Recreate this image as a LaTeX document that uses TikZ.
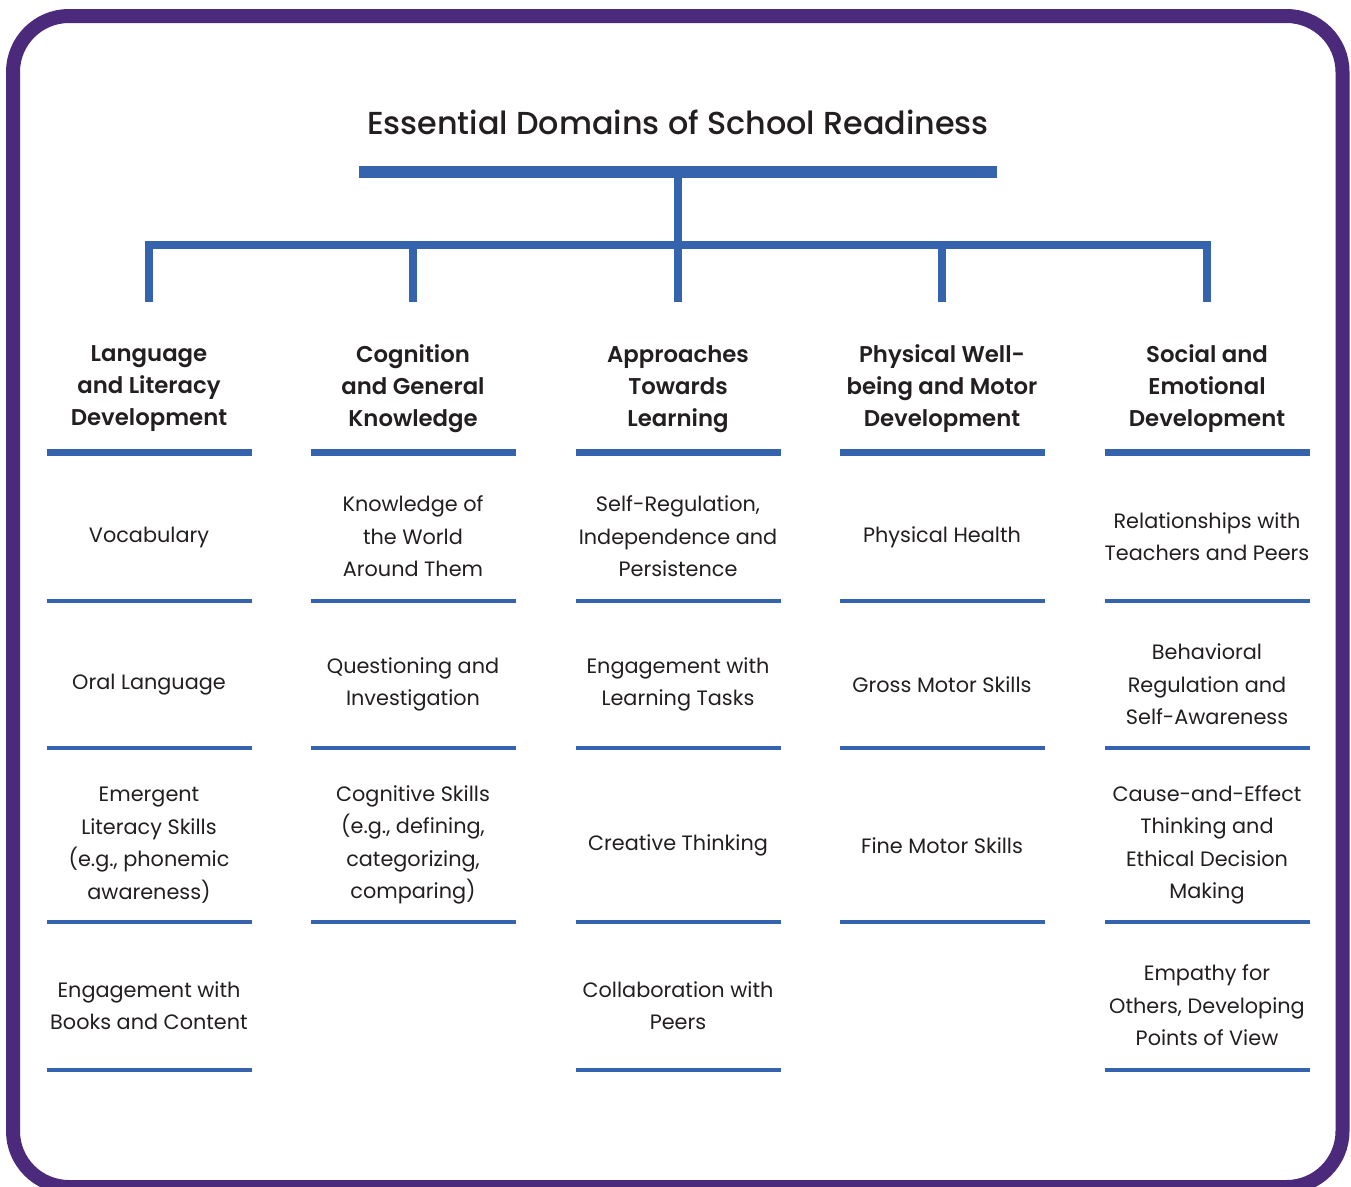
\documentclass[tikz,border=0pt]{standalone}
\usepackage{fontspec}
\setmainfont{Poppins}
\newfontfamily\titlefont{Poppins Medium}
\newfontfamily\headfont{Poppins SemiBold}
\definecolor{frame}{HTML}{4B2A7B}
\definecolor{bar}{HTML}{3563AE}
\definecolor{ink}{HTML}{231F20}
\begin{document}
\begin{tikzpicture}[x=1pt,y=-1pt,
  body/.style={align=center,text=ink,font=\fontsize{20.8}{32.5}\selectfont,inner sep=0pt,yshift=-1.5pt},
  head/.style={align=center,text=ink,font=\fontsize{22.8}{32}\headfont,inner sep=0pt,yshift=-3pt},
  rule/.style={draw=bar,line width=4pt},
  hrule/.style={draw=bar,line width=7pt},
  tree/.style={draw=bar,line width=8pt}]
\useasboundingbox (0,0) rectangle (1351,1186);
\fill[white] (0,0) rectangle (1351,1186);
\draw[frame,line width=14pt,rounded corners=56pt] (13,16) rectangle (1342.5,1187);

\node[text=ink,font=\fontsize{31.8}{34}\titlefont,inner sep=0pt] (title) at (678,122) {Essential Domains of School Readiness};

% tree
\coordinate (tl) at (359,172);
\coordinate (tr) at (997,172);
\coordinate (tm) at (678,172);
\coordinate (hm) at (678,245);
\coordinate (hl) at (145,245);
\coordinate (hr) at (1211,245);
\draw[bar,line width=12pt] (tl) -- (tr);
\draw[tree] (tm) -- (hm);
\draw[tree] (hl) -- (hr);
\foreach \n/\x in {a/149,b/413,c/678,d/942,e/1207}{
  \coordinate (top\n) at (\x,241);
  \coordinate (bot\n) at (\x,302);
  \draw[tree] (top\n) -- (bot\n);
}

% headers
\node[head] (h1) at (149,386) {Language\\and Literacy\\Development};
\node[head] (h2) at (413,386) {Cognition\\and General\\Knowledge};
\node[head] (h3) at (678,386) {Approaches\\Towards\\Learning};
\node[head] (h4) at (942,386) {Physical Well-\\being and Motor\\Development};
\node[head] (h5) at (1207,386) {Social and\\Emotional\\Development};

% rules
\foreach \x in {149,413,678,942,1207}{
  \draw[hrule] (\x-102.5,452) -- (\x+102.5,452);
  \draw[rule] (\x-102.5,601) -- (\x+102.5,601);
  \draw[rule] (\x-102.5,748) -- (\x+102.5,748);
  \draw[rule] (\x-102.5,922) -- (\x+102.5,922);
}
\foreach \x in {149,678,1207}{
  \draw[rule] (\x-102.5,1070) -- (\x+102.5,1070);
}

% column 1
\node[body] (a1) at (149,536) {Vocabulary};
\node[body] (a2) at (149,683) {Oral Language};
\node[body] (a3) at (149,843.5) {Emergent\\Literacy Skills\\(e.g., phonemic\\awareness)};
\node[body] (a4) at (149,1004) {Engagement with\\Books and Content};
% column 2
\node[body] (b1) at (413,535) {Knowledge of\\the World\\Around Them};
\node[body] (b2) at (413,683) {Questioning and\\Investigation};
\node[body] (b3) at (413,843.5) {Cognitive Skills\\(e.g., defining,\\categorizing,\\comparing)};
% column 3
\node[body] (c1) at (678,535) {Self-Regulation,\\Independence and\\Persistence};
\node[body] (c2) at (678,683) {Engagement with\\Learning Tasks};
\node[body] (c3) at (678,844) {Creative Thinking};
\node[body] (c4) at (678,1004) {Collaboration with\\Peers};
% column 4
\node[body] (d1) at (942,536) {Physical Health};
\node[body] (d2) at (942,683) {Gross Motor Skills};
\node[body] (d3) at (942,844) {Fine Motor Skills};
% column 5
\node[body] (e1) at (1207,535) {Relationships with\\Teachers and Peers};
\node[body] (e2) at (1207,683) {Behavioral\\Regulation and\\Self-Awareness};
\node[body] (e3) at (1207,843.5) {Cause-and-Effect\\Thinking and\\Ethical Decision\\Making};
\node[body] (e4) at (1207,1004) {Empathy for\\Others, Developing\\Points of View};
\end{tikzpicture}
\end{document}
